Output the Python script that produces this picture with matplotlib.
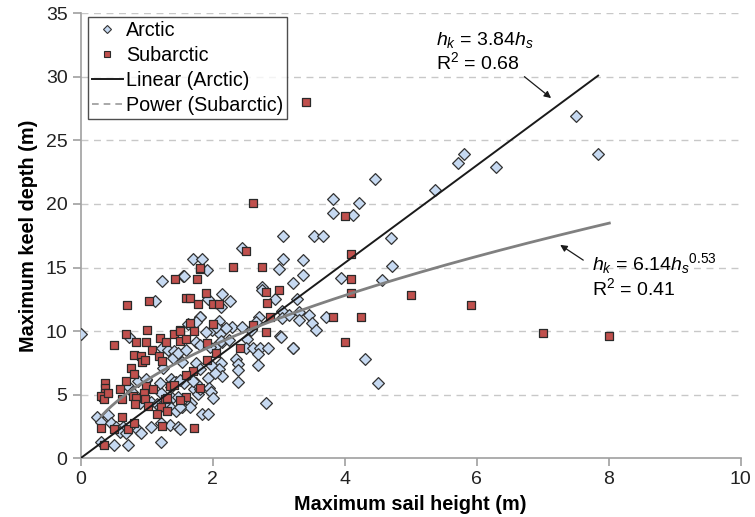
import numpy as np
import matplotlib
matplotlib.use("Agg")
import matplotlib.pyplot as plt
from matplotlib.lines import Line2D

plt.rcParams['font.family'] = ['Liberation Sans', 'DejaVu Sans']
plt.rcParams['mathtext.fontset'] = 'custom'
plt.rcParams['mathtext.rm'] = 'Liberation Sans'
plt.rcParams['mathtext.it'] = 'Liberation Sans:italic'

# Arctic ridges: sail height (m), keel depth (m)
arctic_x = [0.0, 0.24, 0.41, 0.31, 0.46, 0.54, 0.64, 0.6, 0.69, 0.87, 0.92, 1.07,
            0.31, 0.51, 0.71, 1.22, 0.72, 0.77, 0.99, 0.87, 1.21, 1.37, 1.45, 1.37,
            0.73, 1.23, 1.32, 1.41, 1.45, 1.53, 1.38, 1.47, 1.35, 1.22, 1.47, 0.92, 0.9,
            1.06, 1.15, 1.20, 1.30, 1.37, 1.45, 1.53, 1.23, 1.55, 1.13,
            1.70, 1.84, 1.57, 1.91, 1.93, 2.14, 2.26, 2.44, 3.06, 3.06, 3.01, 2.75, 2.75, 2.94,
            2.13, 1.81, 1.62, 2.1, 1.99, 2.13, 2.11, 2.29, 2.44, 2.58, 2.70, 2.66, 3.02,
            2.14, 1.75, 1.81, 2.04, 1.96, 2.13, 2.52, 2.51, 2.61, 2.71, 2.84, 2.69, 2.69, 3.21, 3.03,
            2.35, 2.38, 2.38, 2.38, 2.13, 2.1, 2.14, 1.93, 2.04, 1.98, 1.74, 1.8,
            1.71, 1.77, 1.81, 1.94, 1.98, 2.0, 1.67, 1.65, 1.5, 1.84, 1.93, 1.5, 2.80,
            1.57, 1.74, 1.7, 3.05, 3.05, 3.16, 3.30, 3.30, 3.46, 3.51, 3.57, 3.71,
            3.54, 3.67, 4.70, 3.36, 4.71, 3.36, 3.21, 3.95, 4.56, 3.27,
            3.82, 4.22, 3.82, 4.12, 4.46, 3.21, 4.31, 4.51,
            5.37, 5.71, 5.8, 6.29, 7.51, 7.84,
            1.2, 1.24, 1.8, 1.75, 1.9, 2.05, 2.2, 2.25, 1.4, 1.47, 1.6, 1.42, 1.5, 0.99]
arctic_y = [9.8, 3.25, 3.39, 2.86, 2.78, 2.46, 2.46, 2.07, 1.94, 2.2, 1.94, 2.46,
            1.28, 1.02, 1.02, 1.28, 5.67, 5.2, 6.14, 6.06, 5.14, 6.2, 6.0, 5.57,
            9.55, 8.64, 8.5, 8.45, 7.98, 7.6, 4.7, 4.83, 2.6, 2.78, 2.46, 4.83, 4.3,
            4.44, 4.25, 4.04, 4.3, 3.98, 3.72, 4.04, 13.9, 14.3, 12.4,
            15.7, 15.65, 14.35, 14.8, 12.5, 12.9, 12.4, 16.56, 17.5, 15.65, 14.86, 13.5, 13.2, 12.5,
            11.9, 11.1, 10.55, 10.8, 10.1, 10.1, 9.8, 10.3, 10.34, 10.1, 11.1, 10.7, 9.6,
            9.16, 9.16, 8.9, 8.76, 8.76, 9.24, 9.37, 8.66, 8.66, 8.66, 8.66, 8.2, 7.3, 8.66, 9.5,
            7.8, 7.4, 6.9, 5.96, 7.5, 7.05, 6.45, 6.3, 6.7, 7.3, 7.45, 7.05,
            5.4, 5.04, 5.4, 5.5, 5.2, 4.7, 4.3, 4.04, 4.0, 3.44, 3.44, 2.26, 4.3,
            5.9, 5.9, 6.1, 11.6, 11.0, 11.26, 11.5, 10.87, 11.3, 10.6, 10.1, 11.1,
            17.5, 17.5, 17.3, 15.6, 15.1, 14.4, 13.8, 14.15, 14.0, 12.5,
            20.4, 20.05, 19.3, 19.1, 22.0, 8.7, 7.8, 5.9,
            21.1, 23.2, 23.9, 22.9, 26.9, 23.9,
            5.93, 7.06, 11.1, 10.7, 9.95, 10.3, 10.2, 9.3, 7.85, 8.24, 8.5, 6.0, 6.14, 6.2]

# Subarctic ridges
subarctic_x = [0.70, 1.03, 0.69, 0.5, 1.0, 0.84, 0.99, 1.2, 1.29, 1.41, 1.51, 1.08,
               0.81, 0.91, 0.93, 0.98, 1.18, 1.23, 0.76, 0.81, 0.69, 0.37, 0.37, 0.36,
               0.34, 0.31, 0.35, 0.41, 0.59, 0.62, 0.79, 0.84, 0.99, 1.09, 0.96, 0.98,
               1.35, 1.42, 1.27, 1.31, 0.82, 1.02, 1.22, 1.30, 1.15, 0.31, 0.5, 0.72,
               0.62, 0.81, 0.35, 1.23,
               1.43, 1.8, 1.76, 1.6, 1.66, 1.89, 1.77, 2.01, 2.10, 2.61, 2.51, 1.81,
               2.30, 2.75, 2.81, 3.01, 2.82, 3.42,
               1.66, 2.0, 2.61, 2.86, 2.81, 1.5, 1.71, 1.5, 1.59, 1.91, 2.05, 2.41,
               1.91, 1.7, 1.6, 1.8, 1.6, 1.5, 1.72,
               4.0, 4.1, 4.1, 4.1, 5.0, 3.82, 4.25, 4.0, 5.91, 7.01, 8.01]
subarctic_y = [12.07, 12.4, 9.76, 8.9, 10.1, 9.1, 9.1, 9.47, 9.1, 9.76, 10.08, 8.5,
               8.1, 8.0, 7.6, 7.7, 8.0, 7.66, 7.06, 6.6, 6.1, 5.93, 5.49, 5.1,
               4.78, 4.88, 4.62, 5.09, 5.4, 4.62, 4.88, 4.7, 5.67, 5.4, 5.14, 4.62,
               5.67, 5.75, 4.62, 4.7, 4.25, 4.1, 4.04, 3.7, 3.5, 2.34, 2.26, 2.26,
               3.2, 2.73, 1.02, 2.52,
               14.1, 14.9, 14.1, 12.6, 12.6, 12.96, 12.1, 12.1, 12.1, 20.05, 16.3, 15.0,
               15.06, 15.06, 13.1, 13.2, 12.2, 28.05,
               10.65, 10.55, 10.5, 11.1, 9.9, 10.0, 10.0, 9.24, 9.35, 9.08, 8.3, 8.7,
               7.7, 6.85, 6.54, 5.5, 4.8, 4.6, 2.39,
               19.05, 16.1, 14.1, 13.0, 12.8, 11.1, 11.1, 9.1, 12.07, 9.87, 9.6]

# fitted trend lines (coefficients from the annotations)
lin_a = 3.84
pow_a, pow_b = 6.14, 0.53

fig = plt.figure(figsize=(7.55, 5.17), dpi=100)
ax = fig.add_axes([0.107, 0.114, 0.874, 0.860])

for yv in range(5, 40, 5):
    ax.axhline(yv, color='#c8c8c8', lw=1, ls=(0, (5, 4)), zorder=0)

ax.scatter(arctic_x, arctic_y, marker='D', s=36, facecolor='#c6d9f1',
           edgecolor='#333333', linewidth=0.9, zorder=3)
ax.scatter(subarctic_x, subarctic_y, marker='s', s=32, facecolor='#c0504d',
           edgecolor='#2a2a2a', linewidth=0.9, zorder=3)

xl = np.linspace(0, max(arctic_x), 50)
ax.plot(xl, lin_a * xl, color='#1a1a1a', lw=1.4, zorder=4)
xp = np.linspace(min(subarctic_x), max(subarctic_x), 200)
ax.plot(xp, pow_a * xp ** pow_b, color='#808080', lw=2.0, zorder=4)

ax.set_xlim(0, 10)
ax.set_ylim(0, 35)
ax.set_xticks(range(0, 11, 2))
ax.set_yticks(range(0, 36, 5))
for s in ['top', 'right']:
    ax.spines[s].set_visible(False)
for s in ['left', 'bottom']:
    ax.spines[s].set_color('#a0a0a0')
    ax.spines[s].set_linewidth(1.2)
ax.tick_params(axis='both', colors='#a0a0a0', labelcolor='#222222',
               labelsize=14, length=6, width=1.2)
ax.set_xlabel('Maximum sail height (m)', fontsize=14.3, fontweight='bold', labelpad=5)
ax.set_ylabel('Maximum keel depth (m)', fontsize=14.3, fontweight='bold', labelpad=6)

handles = [
    Line2D([], [], ls='none', marker='D', ms=4.5, mfc='#c6d9f1', mec='#333333', mew=0.8),
    Line2D([], [], ls='none', marker='s', ms=4.5, mfc='#c0504d', mec='#2a2a2a', mew=0.8),
    Line2D([], [], color='#1a1a1a', lw=1.4),
    Line2D([], [], color='#9a9a9a', lw=1.2, ls=(0, (4, 3))),
]
labels = ['Arctic', 'Subarctic', 'Linear (Arctic)', 'Power (Subarctic)']
leg = ax.legend(handles, labels, loc='upper left', bbox_to_anchor=(0.006, 0.998),
                fontsize=14.2, frameon=True, fancybox=False, edgecolor='#222222',
                handlelength=1.6, handletextpad=0.15, labelspacing=0.3,
                borderpad=0.2, borderaxespad=0.15)
leg.get_frame().set_linewidth(1.0)

ax.annotate('', xy=(7.16, 28.2), xytext=(6.69, 30.16),
            arrowprops=dict(arrowstyle='-|>', color='#1a1a1a', lw=0.9, mutation_scale=10))
ax.text(5.39, 32.9, r'$h_k$ = 3.84$h_s$', fontsize=14, va='center', ha='left')
ax.text(5.39, 31.2, r'R$^2$ = 0.68', fontsize=14, va='center', ha='left')

ax.annotate('', xy=(7.23, 16.9), xytext=(7.65, 15.46),
            arrowprops=dict(arrowstyle='-|>', color='#1a1a1a', lw=0.9, mutation_scale=10))
ax.text(7.75, 15.3, r'$h_k$ = 6.14$h_s$$^{0.53}$', fontsize=14, va='center', ha='left')
ax.text(7.75, 13.4, r'R$^2$ = 0.41', fontsize=14, va='center', ha='left')

fig.savefig('out.png', dpi=100)
